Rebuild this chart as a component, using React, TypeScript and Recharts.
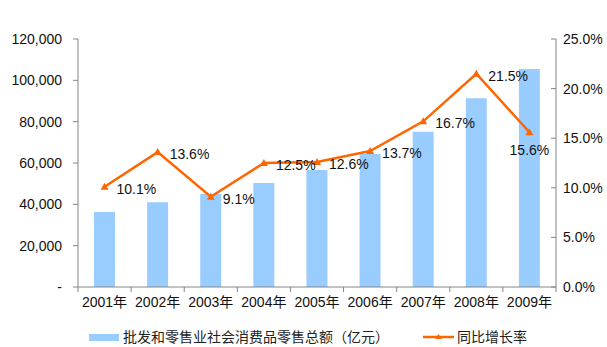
import { ComposedChart, Bar, Line, XAxis, YAxis, LabelList } from "recharts";

const years = ["2001年", "2002年", "2003年", "2004年", "2005年", "2006年", "2007年", "2008年", "2009年"];
const sales = [36300, 41000, 45000, 50300, 56600, 64300, 75100, 91300, 105500];
const growth = [10.1, 13.6, 9.1, 12.5, 12.6, 13.7, 16.7, 21.5, 15.6];
const leftTicks = [0, 20000, 40000, 60000, 80000, 100000, 120000];
const rightTicks = [0, 5, 10, 15, 20, 25];

const data = years.map((year, i) => ({ year, sales: sales[i], growth: growth[i] }));

const FONT = '"Liberation Sans", Arial, "Noto Sans CJK SC", sans-serif';
const BLUE = "#99ccff";
const ORANGE = "#ff6600";
const AXIS = "#868686";
const PLOT_LEFT = 78;
const PLOT_RIGHT = 556;
const BAND = (PLOT_RIGHT - PLOT_LEFT) / years.length;

function XTick(props: any) {
  const { x, y, payload, index } = props;
  const axisY = y - 10;
  return (
    <g>
      <line x1={x - BAND / 2} y1={axisY} x2={x - BAND / 2} y2={axisY + 5} stroke={AXIS} />
      {index === years.length - 1 && (
        <line x1={x + BAND / 2} y1={axisY} x2={x + BAND / 2} y2={axisY + 5} stroke={AXIS} />
      )}
      <text x={x} y={y} dy="0.71em" textAnchor="middle" fontSize={14} fill="#111" fontFamily={FONT}>
        {payload.value}
      </text>
    </g>
  );
}

// right axis ticks point inward in the original
function RightTick(props: any) {
  const { x, y, payload } = props;
  const axisX = x - 7;
  return (
    <g>
      <line x1={axisX - 5} y1={y} x2={axisX} y2={y} stroke={AXIS} />
      <text x={x} y={y} dy="0.355em" textAnchor="start" fontSize={14} fill="#111" fontFamily={FONT}>
        {`${payload.value.toFixed(1)}%`}
      </text>
    </g>
  );
}

function Triangle(props: any) {
  const { cx, cy } = props;
  if (cx == null || cy == null) return null;
  return <path d={`M${cx},${cy - 4} L${cx + 4},${cy + 3} L${cx - 4},${cy + 3} Z`} fill={ORANGE} />;
}

function GrowthLabel(props: any) {
  const { x, y, value, index } = props;
  const last = index === years.length - 1;
  return (
    <text
      x={last ? x : x + 12}
      y={last ? y + 18 : y + 2}
      textAnchor={last ? "middle" : "start"}
      dominantBaseline="central"
      fontSize={14}
      fill="#111"
      fontFamily={FONT}
    >
      {value.toFixed(1)}%
    </text>
  );
}

export default function App() {
  return (
    <div style={{ position: "absolute", left: 0, top: 0, width: 607, height: 347, background: "#fff", fontFamily: FONT }}>
      <ComposedChart width={607} height={347} data={data} margin={{ top: 39, right: 0, bottom: 30, left: 0 }}>
        <XAxis
          dataKey="year"
          height={30}
          stroke={AXIS}
          tickLine={false}
          tickSize={5}
          tickMargin={5}
          tick={<XTick />}
          interval={0}
        />
        <YAxis
          yAxisId="left"
          width={78}
          domain={[0, 120000]}
          ticks={leftTicks}
          stroke={AXIS}
          tickSize={5}
          tickMargin={11}
          tick={{ fontSize: 14, fill: "#111", fontFamily: FONT }}
          tickFormatter={(v: number) => (v === 0 ? "-" : v.toLocaleString("en-US"))}
        />
        <YAxis
          yAxisId="right"
          orientation="right"
          width={51}
          domain={[0, 25]}
          ticks={rightTicks}
          stroke={AXIS}
          tickLine={false}
          tickSize={0}
          tickMargin={7}
          tick={<RightTick />}
        />
        <Bar yAxisId="left" dataKey="sales" fill={BLUE} barSize={21} isAnimationActive={false} />
        <Line
          yAxisId="right"
          dataKey="growth"
          type="linear"
          stroke={ORANGE}
          strokeWidth={2.5}
          dot={<Triangle />}
          activeDot={false}
          isAnimationActive={false}
        >
          <LabelList dataKey="growth" content={<GrowthLabel />} />
        </Line>
      </ComposedChart>
      <div
        style={{
          position: "absolute",
          top: 327,
          left: 0,
          width: 607,
          height: 20,
          fontSize: 14,
          color: "#222",
          lineHeight: "20px",
        }}
      >
        <div style={{ position: "absolute", left: 89, top: 7, width: 30, height: 7, background: BLUE }} />
        <span style={{ position: "absolute", left: 123, top: 0, whiteSpace: "nowrap" }}>批发和零售业社会消费品零售总额（亿元）</span>
        <svg style={{ position: "absolute", left: 423, top: 4 }} width={32} height={12}>
          <line x1={0} y1={6} x2={31} y2={6} stroke={ORANGE} strokeWidth={2.5} />
          <path d="M15.5,3 L19,8 L12,8 Z" fill={ORANGE} />
        </svg>
        <span style={{ position: "absolute", left: 457, top: 0, whiteSpace: "nowrap" }}>同比增长率</span>
      </div>
    </div>
  );
}
